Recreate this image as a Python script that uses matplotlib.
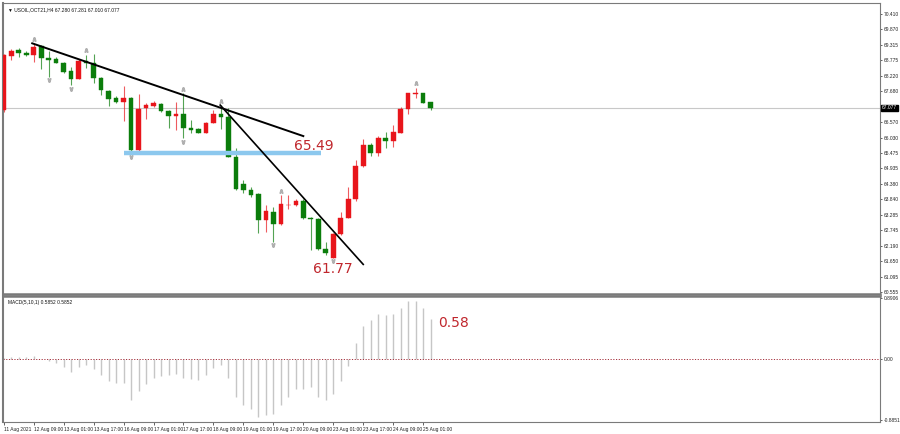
#!/usr/bin/env python3
"""USOIL H4 candles with trendlines and MACD histogram (MT4 style)."""

import numpy as np
import matplotlib
matplotlib.use('Agg')
import matplotlib.pyplot as plt

plt.rcParams['font.family'] = ['Liberation Sans', 'DejaVu Sans']

# ---------------------------------------------------------------- data
opens  = [67.01, 68.92, 69.13, 69.04, 68.95, 69.28, 68.85, 68.80, 68.66, 68.39,
          68.09, 68.74, 68.66, 68.14, 67.68, 67.42, 67.30, 67.42, 65.59, 67.07,
          67.14, 67.22, 66.97, 66.79, 66.86, 66.37, 66.33, 66.18, 66.56, 66.86,
          66.77, 65.33, 64.38, 64.17, 64.03, 63.10, 63.40, 62.96, 63.62, 63.64,
          63.78, 63.18, 63.14, 62.08, 61.77, 62.61, 63.18, 63.85, 65.02, 65.76,
          65.47, 66.02, 65.91, 66.20, 67.03, 67.57, 67.60, 67.28]
highs  = [69.00, 69.16, 69.20, 69.09, 69.35, 69.31, 69.11, 68.90, 68.72, 68.53,
          68.80, 68.96, 68.99, 68.19, 67.71, 67.50, 67.86, 67.48, 67.57, 67.26,
          67.34, 67.26, 67.01, 67.30, 67.60, 66.65, 66.37, 66.59, 67.01, 67.18,
          67.08, 65.66, 64.52, 64.29, 64.06, 63.64, 63.58, 63.99, 63.99, 63.85,
          63.85, 63.22, 63.18, 62.33, 62.64, 63.39, 64.27, 65.23, 65.98, 65.84,
          66.08, 66.24, 66.47, 67.10, 67.62, 67.79, 67.62, 67.281]
lows   = [66.95, 68.78, 68.88, 68.92, 68.72, 68.46, 68.19, 68.66, 68.31, 67.89,
          68.09, 68.49, 67.97, 67.54, 67.15, 67.25, 66.63, 65.47, 65.49, 66.68,
          67.12, 66.94, 66.37, 66.30, 66.00, 66.18, 66.18, 66.18, 66.53, 66.33,
          65.34, 64.17, 64.05, 63.93, 62.64, 62.68, 62.34, 62.93, 63.50, 63.60,
          63.14, 62.04, 62.05, 61.86, 61.77, 62.57, 63.18, 63.78, 64.98, 65.37,
          65.37, 65.66, 65.69, 66.18, 66.86, 67.43, 67.24, 67.01]
closes = [68.96, 69.10, 69.02, 68.95, 69.23, 68.84, 68.78, 68.68, 68.36, 68.12,
          68.74, 68.66, 68.15, 67.71, 67.40, 67.30, 67.44, 65.59, 67.05, 67.18,
          67.24, 66.97, 66.79, 66.86, 66.36, 66.30, 66.20, 66.56, 66.86, 66.75,
          65.35, 64.19, 64.17, 63.99, 63.10, 63.42, 62.96, 63.67, 63.65, 63.78,
          63.18, 63.14, 62.08, 61.93, 62.61, 63.18, 63.85, 65.02, 65.76, 65.47,
          66.02, 65.91, 66.23, 67.03, 67.60, 67.62, 67.26, 67.077]

macd_hist = [0.02, 0.03, 0.03, 0.03, 0.05, 0.00, -0.02, -0.06, -0.12, -0.19,
             -0.12, -0.09, -0.145, -0.23, -0.32, -0.35, -0.34, -0.59, -0.47, -0.36,
             -0.27, -0.24, -0.23, -0.22, -0.27, -0.29, -0.30, -0.23, -0.13, -0.09,
             -0.28, -0.55, -0.67, -0.73, -0.84, -0.81, -0.80, -0.67, -0.55, -0.43,
             -0.44, -0.40, -0.55, -0.60, -0.51, -0.32, -0.10, 0.23, 0.49, 0.57,
             0.66, 0.65, 0.66, 0.75, 0.84, 0.84, 0.74, 0.5852]

frac_up = [4, 11, 24, 29, 37, 55]
frac_dn = [6, 9, 17, 24, 36, 44]

trend1_x = [3.8, 40.0]
trend1_y = [69.37, 66.08]
trend2_x = [28.9, 48.0]
trend2_y = [67.18, 61.53]
support_x = [16.0, 42.4]
support_level = 65.49

last_price = 67.077
price_ticks = [70.410, 69.870, 69.315, 68.775, 68.220, 67.680, 66.570, 66.030,
               65.475, 64.935, 64.380, 63.840, 63.285, 62.745, 62.190, 61.650,
               61.095, 60.555]
macd_ticks = [0.8906, 0.0, -0.8851]
macd_tick_labels = ['0.8906', '0.00', '-0.8851']

time_labels = ['11 Aug 2021', '12 Aug 09:00', '13 Aug 01:00', '13 Aug 17:00',
               '16 Aug 09:00', '17 Aug 01:00', '17 Aug 17:00', '18 Aug 09:00',
               '19 Aug 01:00', '19 Aug 17:00', '20 Aug 09:00', '23 Aug 01:00',
               '23 Aug 17:00', '24 Aug 09:00', '25 Aug 01:00']

UP = '#e8151b'
DN = '#0b7d0b'
FRAME = '#7a7a7a'
SMALL = 3.5

# ---------------------------------------------------------------- layout
W, H = 900, 434
fig = plt.figure(figsize=(W / 100, H / 100), dpi=100)
fig.patch.set_facecolor('white')


def box(x0, y0, x1, y1):
    return [x0 / W, 1 - y1 / H, (x1 - x0) / W, (y1 - y0) / H]


ax = fig.add_axes(box(3, 3, 880, 294))
axm = fig.add_axes(box(3, 296, 880, 422))

xlim = (-0.1, 117.0)
n = len(opens)
x = np.arange(n)

# ---------------------------------------------------------------- candles
for i in range(n):
    col = UP if closes[i] >= opens[i] else DN
    ax.vlines(i, lows[i], highs[i], color=col, lw=0.8, alpha=0.7, zorder=2)
    lo, hi = sorted([opens[i], closes[i]])
    ax.bar(i, max(hi - lo, 0.02), bottom=lo, width=0.62, color=col,
           edgecolor=col, lw=0.3, zorder=3)

ax.axhline(last_price, color='#c8c8c8', lw=0.8, zorder=1)

ax.plot(frac_up, [highs[i] + 0.16 for i in frac_up], ls='none',
        marker=r'$\wedge$', ms=2.5, color='#b0b0b0', zorder=4)
ax.plot(frac_dn, [lows[i] - 0.13 for i in frac_dn], ls='none',
        marker=r'$\vee$', ms=2.5, color='#b0b0b0', zorder=4)

ax.plot(trend1_x, trend1_y, color='black', lw=1.4, zorder=5)
ax.plot(trend2_x, trend2_y, color='black', lw=1.2, zorder=5)
ax.plot(support_x, [support_level] * 2, color='#8cc8ee', lw=3.2,
        solid_capstyle='butt', zorder=4)

ax.text(41.4, 65.73, f'{support_level:.2f}', color='#c0272d', fontsize=10,
        ha='center', va='center', family='DejaVu Sans')
ax.text(43.9, 61.37, f'{min(lows):.2f}', color='#c0272d', fontsize=10,
        ha='center', va='center', family='DejaVu Sans')

ax.text(0.006, 0.985, '\u25bc USOIL,OCT21,H4 67.280 67.281 67.010 67.077',
        transform=ax.transAxes, fontsize=SMALL, va='top', ha='left', color='#111111')

ax.set_xlim(*xlim)
ax.set_ylim(60.48, 70.80)
ax.yaxis.tick_right()
ax.set_yticks(price_ticks)
ax.set_yticklabels([f'{t:.3f}' for t in price_ticks], fontsize=SMALL, color='#222222')
ax.tick_params(axis='y', length=1.5, width=0.5, pad=1, colors='#222222')
ax.set_xticks([])
ax.text(1.002, last_price, f'{last_price:.3f}', transform=ax.get_yaxis_transform(),
        fontsize=SMALL, color='white', va='center', ha='left',
        bbox=dict(boxstyle='square,pad=0.15', fc='black', ec='black'))

# ---------------------------------------------------------------- macd
axm.vlines(x, 0, macd_hist, color='#c6c6c6', lw=1.0)
axm.axhline(0, color='#a3303c', lw=0.7, ls=(0, (1.2, 1.6)))
macd_last = np.floor(macd_hist[-1] * 100) / 100
axm.text(60.0, 0.53, f'{macd_last:.2f}', color='#c0272d', fontsize=10,
         ha='center', va='center', family='DejaVu Sans')
axm.text(0.006, 0.97, 'MACD(5,10,1) 0.5852 0.5852', transform=axm.transAxes,
         fontsize=SMALL, va='top', ha='left', color='#111111')
axm.set_xlim(*xlim)
axm.set_ylim(-0.914, 0.92)
axm.yaxis.tick_right()
axm.set_yticks(macd_ticks)
axm.set_yticklabels(macd_tick_labels, fontsize=SMALL, color='#222222')
axm.tick_params(axis='y', length=1.5, width=0.5, pad=1, colors='#222222')

axm.set_xticks(np.arange(0, 4 * len(time_labels), 4))
axm.set_xticklabels(time_labels, fontsize=SMALL, ha='left', color='#222222')
axm.tick_params(axis='x', length=2, width=0.5, pad=1.5, colors='#222222')

for a in (ax, axm):
    for s in a.spines.values():
        s.set_color(FRAME)
        s.set_linewidth(0.8)
ax.spines['bottom'].set_linewidth(1.8)
axm.spines['top'].set_linewidth(1.8)
ax.spines['left'].set_linewidth(1.5)
axm.spines['left'].set_linewidth(1.5)

fig.savefig('out.png', dpi=100, facecolor='white')
